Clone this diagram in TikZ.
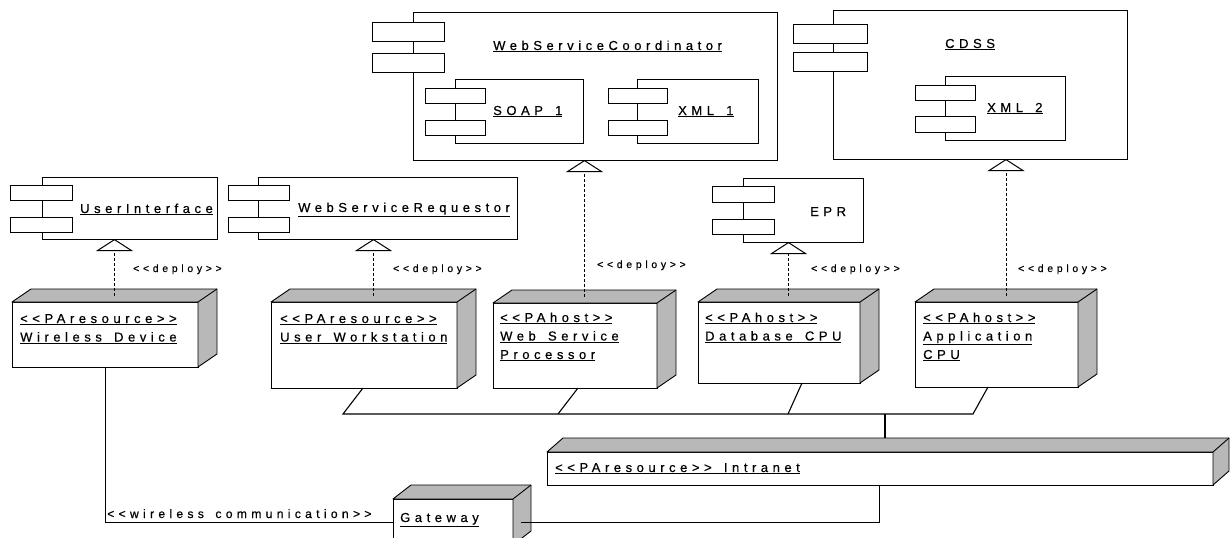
\documentclass[tikz,border=0pt]{standalone}
\usepackage{fontspec}
\newfontfamily\lblfont{Liberation Sans}[LetterSpace=35, FakeBold=0.5, WordSpace=1.5]
\usetikzlibrary{fit,calc,arrows.meta}

% 3D device box: front face node, plus shaded top and right side
\newcommand\devbox[6]{%
  \node[devface, fit={(#2,#3)(#4,#5)}] (#1) {};
  \filldraw[devside] (#1.north west) -- ++(#6) -- ($(#1.north east)+(#6)$)
    -- ($(#1.south east)+(#6)$) -- (#1.south east) -- (#1.north east) -- cycle;
  \draw[devside] (#1.north east) -- ++(#6);
}
\newcommand\lines[1]{\begin{tabular}[t]{@{}l@{}}#1\end{tabular}}

\begin{document}
\begin{tikzpicture}[x=1pt,y=-1pt,
  facebox/.style={draw, line width=0.9pt, fill=white, inner sep=0pt, outer sep=0pt},
  tab/.style={facebox},
  devface/.style={facebox},
  devside/.style={draw, line width=0.9pt, fill=black!28, line join=round},
  wire/.style={line width=1.1pt},
  lbl/.style={font=\lblfont\fontsize{13}{18.5}\selectfont, inner sep=0pt, anchor=base west},
  deplbl/.style={font=\lblfont\fontsize{10.5}{12}\selectfont, inner sep=0pt, anchor=base west},
  deploy/.style={densely dashed, line width=0.7pt,
    -{Triangle[open, length=12pt, width=37pt, line width=1pt]}}
]
\fill[white] (0,0) rectangle (1232,538);
\clip (0,0) rectangle (1232,538);

% ---------- components ----------
% UserInterface
\node[facebox, fit={(42,177)(217,239)}] (ui) {};
\node[tab, fit={(10,185)(72,200)}] (uiA) {};
\node[tab, fit={(10,217)(72,232)}] (uiB) {};
\node[lbl] (uiT) at (80,213) {\underline{UserInterface}};

% WebServiceRequestor
\node[facebox, fit={(258,177)(517,239)}] (wsr) {};
\node[tab, fit={(228,185)(289,200)}] (wsrA) {};
\node[tab, fit={(228,217)(289,232)}] (wsrB) {};
\node[lbl] (wsrT) at (298,212) {\underline{WebServiceRequestor}};

% WebServiceCoordinator with SOAP 1 and XML 1
\node[facebox, fit={(413,12)(777,160)}] (wsc) {};
\node[tab, fit={(372,22)(444,41)}] (wscA) {};
\node[tab, fit={(372,53)(444,72)}] (wscB) {};
\node[lbl] (wscT) at (493,50) {\underline{WebServiceCoordinator}};
\node[facebox, fit={(455,79)(583,143)}] (soap) {};
\node[tab, fit={(425,88)(485,103)}] (soapA) {};
\node[tab, fit={(425,120)(485,135)}] (soapB) {};
\node[lbl] (soapT) at (493,115) {\underline{SOAP\ 1}};
\node[facebox, fit={(637,79)(758,143)}] (xmla) {};
\node[tab, fit={(608,88)(667,103)}] (xmlaA) {};
\node[tab, fit={(608,120)(667,135)}] (xmlaB) {};
\node[lbl] (xmlaT) at (678,115) {\underline{XML 1}};

% CDSS with XML 2
\node[facebox, fit={(833,10)(1127,159)}] (cdss) {};
\node[tab, fit={(793,24)(867,43)}] (cdssA) {};
\node[tab, fit={(793,52)(867,71)}] (cdssB) {};
\node[lbl] (cdssT) at (945,48) {\underline{CDSS}};
\node[facebox, fit={(945,76)(1065,140)}] (xmlb) {};
\node[tab, fit={(915,85)(975,100)}] (xmlbA) {};
\node[tab, fit={(915,116)(975,132)}] (xmlbB) {};
\node[lbl] (xmlbT) at (987,112) {\underline{XML 2}};

% EPR
\node[facebox, fit={(743,178)(863,242)}] (epr) {};
\node[tab, fit={(712,186)(774,202)}] (eprA) {};
\node[tab, fit={(712,219)(774,234)}] (eprB) {};
\node[lbl] (eprT) at (810,216) {EPR};

% ---------- devices ----------
\devbox{wd}{12}{302}{198}{367}{19,-13}
\devbox{uw}{271}{302}{457}{388}{19,-13}
\devbox{wsp}{493}{303}{657}{388}{19,-13}
\devbox{db}{698}{302}{860}{383}{19,-13}
\devbox{app}{915}{302}{1078}{387}{19,-13}
\devbox{intr}{547}{452}{1213}{485}{16,-14}
\devbox{gw}{393}{499}{513}{545}{18,-14}

\node[lbl] (wdT) at (20,323) {\lines{\underline{<<PAresource>>}\\\underline{Wireless Device}}};
\node[lbl] (uwT) at (280,323) {\lines{\underline{<<PAresource>>}\\\underline{User Workstation}}};
\node[lbl] (wspT) at (500,322) {\lines{\underline{<<PAhost>>}\\\underline{Web Service}\\\underline{Processor}}};
\node[lbl] (dbT) at (705,322) {\lines{\underline{<<PAhost>>}\\\underline{Database CPU}}};
\node[lbl] (appT) at (923,322) {\lines{\underline{<<PAhost>>}\\\underline{Application}\\\underline{CPU}}};
\node[lbl] (intrT) at (555,472) {\underline{<<PAresource>>\ Intranet}};
\node[lbl] (gwT) at (400,522) {\underline{Gateway}};

% ---------- deployments ----------
\coordinate (wdTop) at ($(wd.north)+(9.5,-6.5)$);
\coordinate (uwTop) at ($(uw.north)+(9.5,-6.5)$);
\coordinate (wspTop) at ($(wsp.north)+(9.5,-6.5)$);
\coordinate (dbTop) at ($(db.north)+(9.5,-6.5)$);
\coordinate (appTop) at ($(app.north)+(9.5,-6.5)$);
\draw[deploy] (wdTop) -- (wdTop |- ui.south);
\draw[deploy] (uwTop) -- (uwTop |- wsr.south);
\draw[deploy] (wspTop) -- (wspTop |- wsc.south);
\draw[deploy] (dbTop) -- (dbTop |- epr.south);
\draw[deploy] (appTop) -- (appTop |- cdss.south);
\node[deplbl] (d1) at (133,272) {<<deploy>>};
\node[deplbl] (d2) at (393,272) {<<deploy>>};
\node[deplbl] (d3) at (597,268) {<<deploy>>};
\node[deplbl] (d4) at (811,272) {<<deploy>>};
\node[deplbl] (d5) at (1018,272) {<<deploy>>};

% ---------- network ----------
\coordinate (b1) at (343,414);
\coordinate (b2) at (558,414);
\coordinate (b3) at (788,414);
\coordinate (b4) at (973,414);
\coordinate (bj) at (885,414);
\coordinate (intrTop) at ($(intr.north)+(8,-14)$);
\coordinate (intrPort) at ($(intr.south west)+(332,0)$);
\draw[wire] ($(uw.south west)+(92,0)$) -- (b1) -- (b4) -- ($(app.south west)+(73,0)$);
\draw[wire] ($(wsp.south west)+(85,0)$) -- (b2);
\draw[wire] ($(db.south west)+(104,0)$) -- (b3);
\draw[wire] (bj) -- (bj |- intrTop);

\draw[line width=0.9pt] ($(wd.south west)+(93,0)$) |- (gw.west);
\node[lbl, font=\lblfont\fontsize{12.2}{14}\selectfont] (wlT) at (107,518) {<<wireless communication>>};
\draw[line width=0.9pt] ($(gw.east)+(8,0)$) -| (intrPort);
\end{tikzpicture}
\end{document}
